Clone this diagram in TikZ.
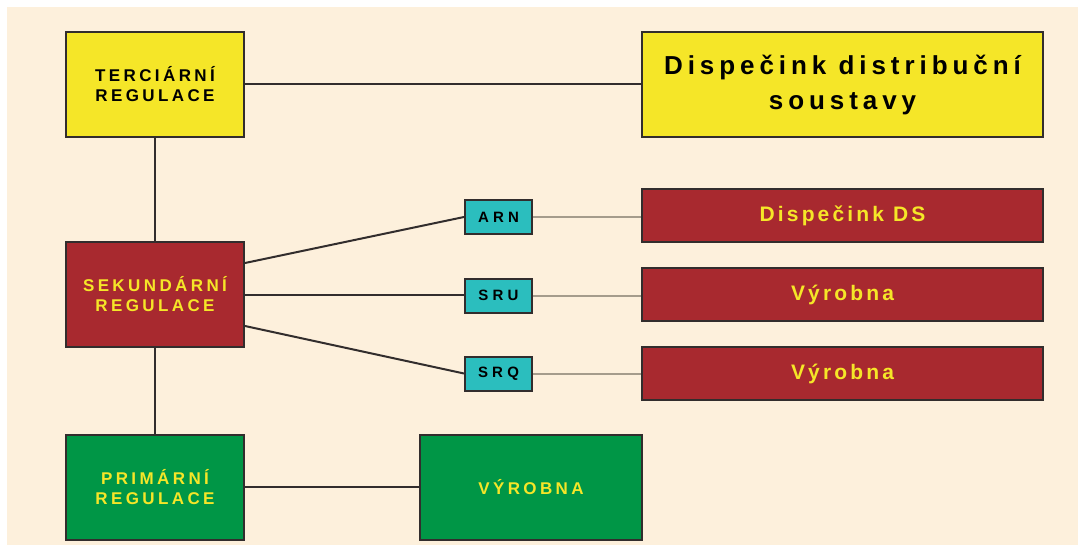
\documentclass[tikz,border=0pt]{standalone}
\usepackage{fontspec}
\setmainfont{Liberation Sans}
\newfontfamily\labA[LetterSpace=20]{Liberation Sans}
\newfontfamily\labB[LetterSpace=19]{Liberation Sans}
\newfontfamily\labC[LetterSpace=15]{Liberation Sans}
\newfontfamily\labD[LetterSpace=28]{Liberation Sans}
\definecolor{bgc}{RGB}{253,240,220}
\definecolor{yel}{RGB}{245,230,40}
\definecolor{redc}{RGB}{168,41,47}
\definecolor{grn}{RGB}{0,150,70}
\definecolor{tea}{RGB}{43,190,190}
\definecolor{edge}{RGB}{50,45,45}
\definecolor{lgray}{RGB}{165,156,140}
\begin{document}
\begin{tikzpicture}[x=1pt,y=-1pt,
  box/.style={draw=edge,line width=2pt,inner sep=0pt,align=center,font=\labA\bfseries\fontsize{17}{20}\selectfont},
  bigbox/.style={box,minimum width=178pt,minimum height=105pt},
  ybox/.style={fill=yel,text=black},
  rbox/.style={fill=redc,text=yel},
  gbox/.style={fill=grn,text=yel},
  wide/.style={box,rbox,minimum width=401pt,minimum height=53pt,font=\labC\bfseries\fontsize{21}{24}\selectfont},
  small/.style={box,fill=tea,text=black,minimum width=67pt,minimum height=34pt,font=\labD\bfseries\fontsize{15}{16}\selectfont},
  conn/.style={draw=edge,line width=2pt},
  gconn/.style={draw=lgray,line width=2pt}]
\useasboundingbox (0,0) rectangle (1078,548);
\fill[bgc] (7,7) rectangle (1078,545);
\node[bigbox,ybox] (terc) at (155,84.5) {TERCIÁRNÍ\\REGULACE};
\node[box,ybox,minimum width=401pt,minimum height=105pt,font=\labB\bfseries\fontsize{26}{35}\selectfont] (disp) at (842.5,84.5) {Dispečink distribuční\\soustavy};
\node[bigbox,rbox] (sek) at (155,294.5) {SEKUNDÁRNÍ\\REGULACE};
\node[bigbox,gbox] (prim) at (155,487) {PRIMÁRNÍ\\REGULACE};
\node[bigbox,gbox,minimum width=222pt] (vyr) at (531,487) {VÝROBNA};
\node[small] (arn) at (498.5,217) {ARN};
\node[small] (sru) at (498.5,295.5) {SRU};
\node[small] (srq) at (498.5,373.5) {SRQ};
\node[wide] (ds) at (842.5,215.5) {Dispečink DS};
\node[wide] (v1) at (842.5,294.5) {Výrobna};
\node[wide] (v2) at (842.5,373.5) {Výrobna};
\draw[conn] (terc.east) -- (disp.west);
\draw[conn] (terc.south) -- (sek.north);
\draw[conn] (sek.south) -- (prim.north);
\draw[conn] ([yshift=31.5pt]sek.east) -- (arn.west);
\draw[conn] (sek.east) -- (sru.west |- sek.east);
\draw[conn] ([yshift=-31.5pt]sek.east) -- (srq.west);
\draw[conn] (prim.east) -- (vyr.west);
\draw[gconn] (arn.east) -- (ds.west |- arn.east);
\draw[gconn] (sru.east) -- (v1.west |- sru.east);
\draw[gconn] (srq.east) -- (v2.west |- srq.east);
\end{tikzpicture}
\end{document}
